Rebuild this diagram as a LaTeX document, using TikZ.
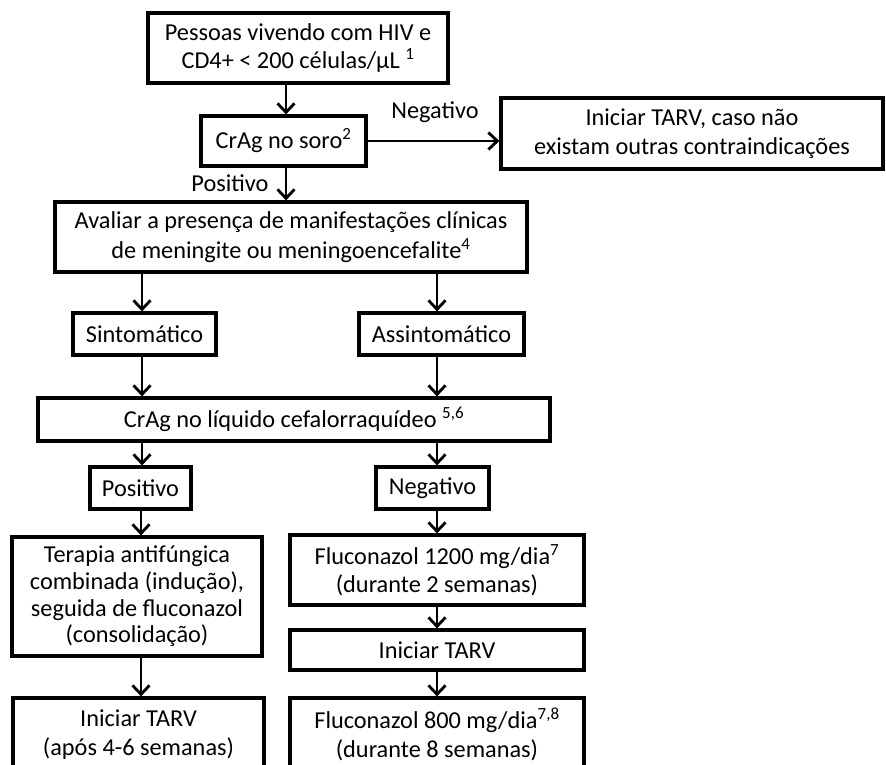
\documentclass[tikz,border=0pt]{standalone}
\usepackage{fontspec}
\setmainfont{Carlito}
\usetikzlibrary{arrows.meta}
\begin{document}
\begin{tikzpicture}[x=1pt,y=-1pt,
  box/.style={draw,line width=3.2pt,align=center,inner sep=0pt,font=\fontsize{24.3}{28.5}\selectfont},
  arr/.style={line width=2.8pt,-{Straight Barb[length=9pt,width=17pt,line width=2.8pt]}},
  lbl/.style={font=\fontsize{24.3}{28.5}\selectfont,inner sep=0pt}]
\useasboundingbox (0,0) rectangle (886,764);
% nodes
\node[box,minimum width=300,minimum height=70] (b1) at (298,48) {Pessoas vivendo com HIV e\\CD4+ < 200 células/µL \textsuperscript{1}};
\node[box,minimum width=165,minimum height=50] (b2) at (283.5,141) {CrAg no soro\textsuperscript{2}};
\node[box,minimum width=382,minimum height=71] (bneg) at (692,133.5) {Iniciar TARV, caso não\\existam outras contraindicações};
\node[box,minimum width=472,minimum height=70,font=\fontsize{24.3}{30}\selectfont] (b3) at (291,237) {Avaliar a presença de manifestações clínicas\\de meningite ou meningoencefalite\textsuperscript{4}};
\node[box,minimum width=143,minimum height=42] (sint) at (144.5,334) {Sintomático};
\node[box,minimum width=165,minimum height=42] (assint) at (441.5,334) {Assintomático};
\node[box,minimum width=512,minimum height=43] (lcr) at (294,419.5) {CrAg no líquido cefalorraquídeo \textsuperscript{5,6}};
\node[box,minimum width=101,minimum height=42] (pos) at (140.5,488) {Positivo};
\node[box,minimum width=113,minimum height=42] (neg) at (432.5,488) {Negativo};
\node[box,minimum width=250,minimum height=119,font=\fontsize{24.3}{26.7}\selectfont] (ter) at (137,596.5) {Terapia antifúngica\\combinada (indução),\\seguida de fluconazol\\(consolidação)};
\node[box,minimum width=294,minimum height=70] (f1200) at (437,570) {Fluconazol 1200 mg/dia\textsuperscript{7}\\(durante 2 semanas)};
\node[box,minimum width=294,minimum height=40] (tarv) at (437,650) {Iniciar TARV};
\node[box,minimum width=294,minimum height=73] (f800) at (437,734.5) {Fluconazol 800 mg/dia\textsuperscript{7,8}\\(durante 8 semanas)};
\node[box,minimum width=251,minimum height=73] (apos) at (138.5,734.5) {Iniciar TARV\\(após 4-6 semanas)};
\node[lbl] (lneg) at (435,112) {Negativo};
\node[lbl] (lpos) at (230,183) {Positivo};
% columns
\coordinate (xa) at (286,0);
\coordinate (xl) at (142,0);
\coordinate (xr) at (437,0);
\coordinate (xt) at (141,0);
% connectors
\draw[arr] (b1.south -| xa) -- (b2.north -| xa);
\draw[arr] (b2.south -| xa) -- (b3.north -| xa);
\draw[arr] (b2.east) -- (bneg.west |- b2.east);
\draw[arr] (b3.south -| xl) -- (sint.north -| xl);
\draw[arr] (b3.south -| xr) -- (assint.north -| xr);
\draw[arr] (sint.south -| xl) -- (lcr.north -| xl);
\draw[arr] (assint.south -| xr) -- (lcr.north -| xr);
\draw[arr] (lcr.south -| xl) -- (pos.north -| xl);
\draw[arr] (lcr.south -| xr) -- (neg.north -| xr);
\draw[arr] (pos.south -| xt) -- (ter.north -| xt);
\draw[arr] (neg.south -| xr) -- (f1200.north -| xr);
\draw[arr] (f1200.south -| xr) -- (tarv.north -| xr);
\draw[arr] (tarv.south -| xr) -- (f800.north -| xr);
\draw[arr] (ter.south -| xt) -- (apos.north -| xt);
\end{tikzpicture}
\end{document}
